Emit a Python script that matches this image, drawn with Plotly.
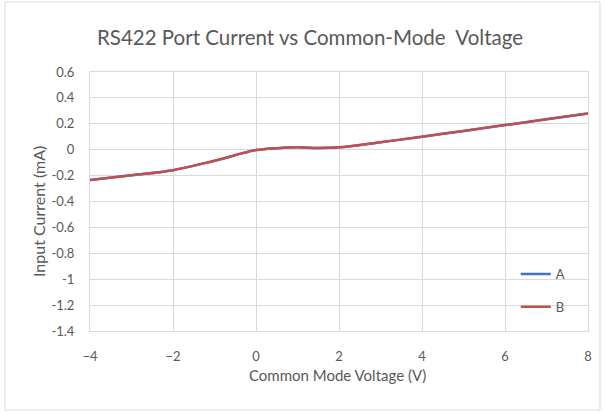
import plotly.graph_objects as go

voltage = [-4, -3, -2, -1, 0, 0.5, 1, 1.5, 2, 3, 4, 5, 6, 7, 8]
current_a = [-0.235, -0.197, -0.158, -0.085, -0.003, 0.012, 0.018, 0.013, 0.018, 0.058, 0.10, 0.145, 0.19, 0.235, 0.28]
current_b = [-0.235, -0.197, -0.158, -0.085, -0.003, 0.012, 0.018, 0.013, 0.018, 0.058, 0.10, 0.145, 0.19, 0.235, 0.28]
x_ticks = [-4, -2, 0, 2, 4, 6, 8]
y_ticks = [0.6, 0.4, 0.2, 0, -0.2, -0.4, -0.6, -0.8, -1, -1.2, -1.4]
y_labels = ["0.6", "0.4", "0.2", "0", "-0.2", "-0.4", "-0.6", "-0.8", "-1", "-1.2", "-1.4"]

FONT = "Lato, Open Sans, sans-serif"
GREY = "#595959"

fig = go.Figure()
fig.add_trace(go.Scatter(x=voltage, y=current_a, name="A", mode="lines",
                         line=dict(color="#4472C4", width=2.5, shape="spline", smoothing=1.0),
                         legendgroup="a"))
fig.add_trace(go.Scatter(x=voltage, y=current_b, name="B", mode="lines",
                         line=dict(color="#C0504D", width=2.5, shape="spline", smoothing=1.0),
                         legendgroup="b"))

fig.update_layout(
    width=605, height=415,
    margin=dict(l=90, r=17, t=72, b=84),
    paper_bgcolor="white", plot_bgcolor="white",
    font=dict(family=FONT, color=GREY, size=12),
    title=dict(text="RS422 Port Current vs Common-Mode  Voltage", x=310 / 605, xref="container",
               xanchor="center", y=1 - 38 / 415, yref="container", yanchor="middle",
               font=dict(size=20.5, color=GREY, family=FONT)),
    showlegend=True,
    legend=dict(x=0.855, y=0.278, xanchor="left", yanchor="top",
                bgcolor="rgba(0,0,0,0)", tracegroupgap=13,
                font=dict(size=13, color=GREY, family=FONT), itemwidth=30),
    xaxis=dict(range=[-4, 8], tickvals=x_ticks, showgrid=True, gridcolor="#d9d9d9",
               zeroline=False, showline=True, linecolor="#d9d9d9", mirror=True,
               ticks="", ticklabelstandoff=13, tickfont=dict(size=13, color=GREY)),
    yaxis=dict(range=[-1.4, 0.6], tickvals=y_ticks, ticktext=y_labels, showgrid=True,
               gridcolor="#d9d9d9", zeroline=False, showline=True, linecolor="#d9d9d9",
               mirror=True, ticks="", ticklabelstandoff=12, tickfont=dict(size=13, color=GREY)),
    annotations=[
        dict(text="Common Mode Voltage (V)", xref="paper", yref="paper",
             x=(337 - 90) / 498, y=-(375 - 331) / 259, xanchor="center", yanchor="middle",
             showarrow=False, font=dict(size=15, color=GREY, family=FONT)),
        dict(text="Input Current (mA)", xref="paper", yref="paper",
             x=-(90 - 38) / 498, y=(331 - 212) / 259, xanchor="center", yanchor="middle",
             textangle=-90, showarrow=False, font=dict(size=16, color=GREY, family=FONT)),
    ],
    shapes=[dict(type="rect", xref="paper", yref="paper",
                 x0=(5 - 90) / 498, x1=(600 - 90) / 498,
                 y0=-(410 - 331) / 259, y1=1 + (72 - 2) / 259,
                 line=dict(color="#d9d9d9", width=1), fillcolor="rgba(0,0,0,0)", layer="below")],
)

fig.write_html("out.html", config={"displayModeBar": False},
               post_script="document.body.style.margin='0';")
